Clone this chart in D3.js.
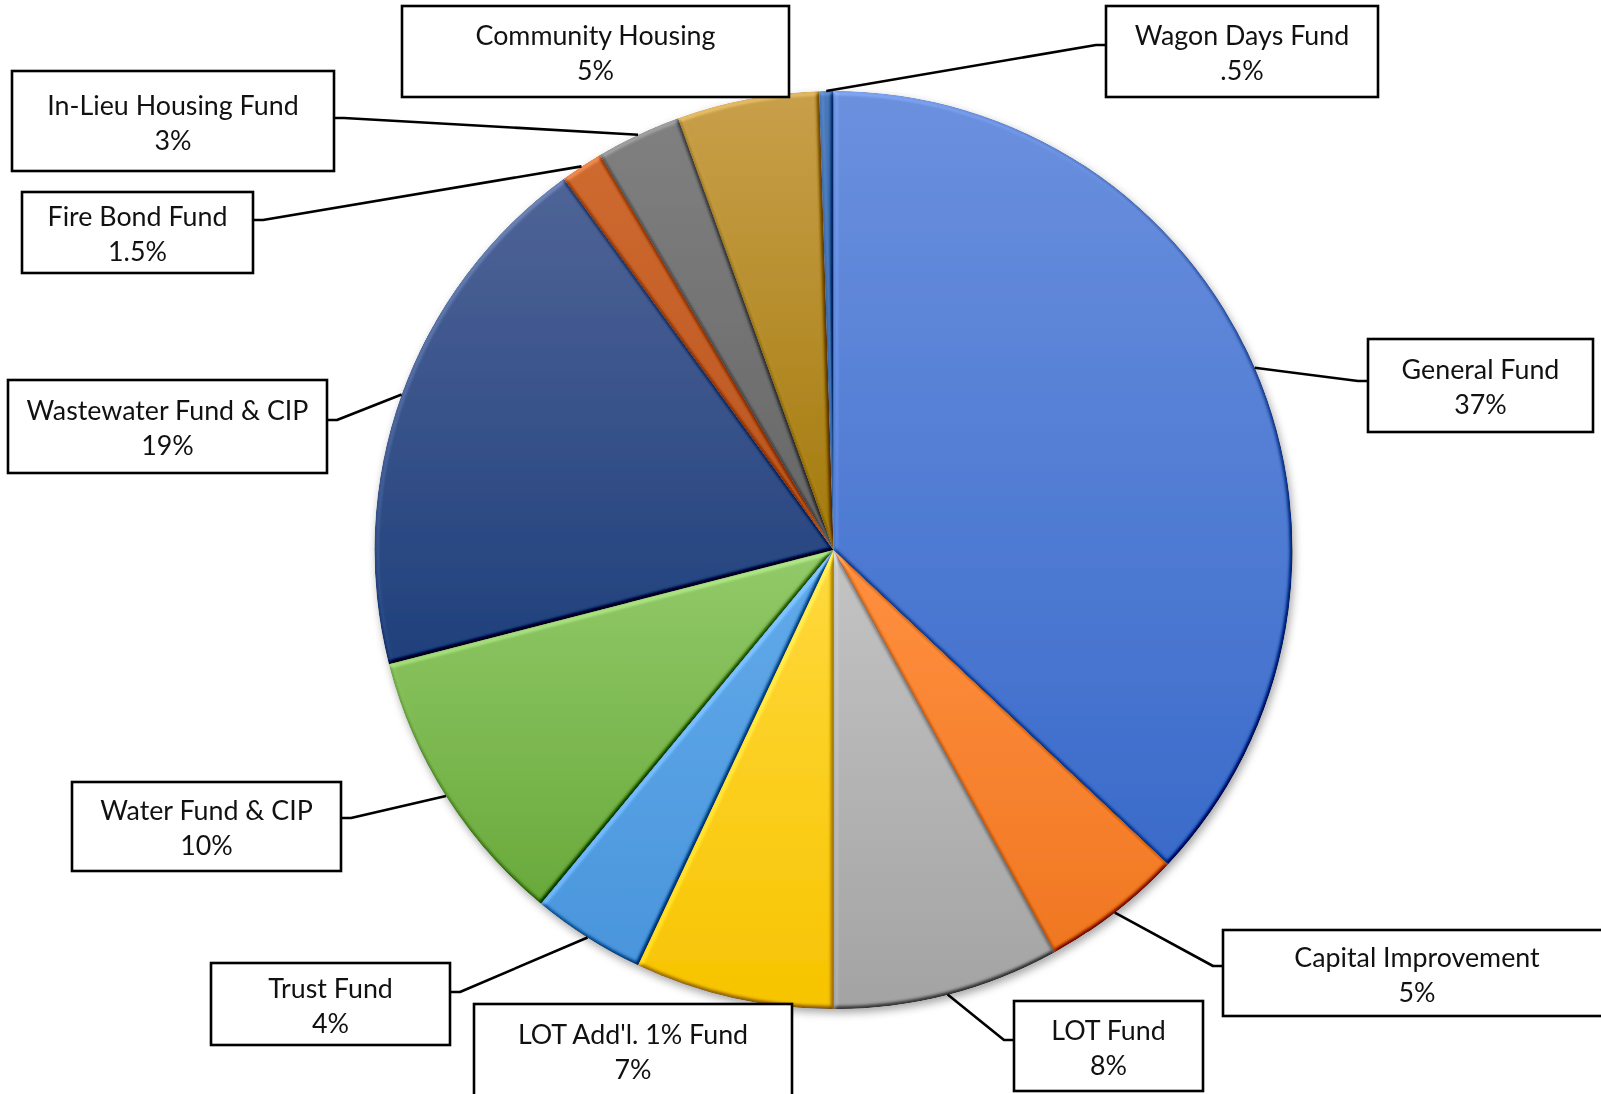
<!DOCTYPE html>
<html>
<head>
<meta charset="utf-8">
<script src="https://cdn.jsdelivr.net/npm/d3@7"></script>
<style>
  html, body { margin: 0; padding: 0; background: #fff; }
  svg { display: block; }
  .lbl { font-family: Lato, "Open Sans", sans-serif; font-size: 26.8px; fill: #111; }
</style>
</head>
<body>
<svg id="chart" width="1601" height="1094"></svg>
<script>
// Fund shares, clockwise from 12 o'clock
const categories = [
  "General Fund", "Capital Improvement", "LOT Fund", "LOT Add'l. 1% Fund",
  "Trust Fund", "Water Fund & CIP", "Wastewater Fund & CIP", "Fire Bond Fund",
  "In-Lieu Housing Fund", "Community Housing", "Wagon Days Fund"
];
const shares = [37, 5, 8, 7, 4, 10, 19, 1.5, 3, 5, 0.5];
const shareLabels = ["37%", "5%", "8%", "7%", "4%", "10%", "19%", "1.5%", "3%", "5%", ".5%"];

// Slice fills: lighter tone at the top of each slice, base tone at its bottom
const colorTop = ["#6b90de", "#ff9040", "#c4c4c4", "#ffd93e", "#62aaea", "#92ca69",
                  "#4f6497", "#cf6a30", "#808080", "#c9a04a", "#4a78b8"];
const colorBottom = ["#3a6bca", "#f07722", "#a3a3a3", "#f7c400", "#4a95dc", "#69a93b",
                     "#1f407c", "#b85520", "#666666", "#a27a0c", "#2f5f9f"];

// Label boxes [x0, y0, x1, y1] and where their leader leaves the box
const labelBoxes = [
  [1368, 339, 1593, 432], [1223, 930, 1611, 1016], [1014, 1001, 1203, 1091],
  [474, 1004, 792, 1097], [211, 963, 450, 1045], [72, 782, 341, 871],
  [8, 380, 327, 473], [22, 192, 253, 273], [12, 71, 334, 171],
  [402, 6, 789, 97], [1106, 6, 1378, 97]
];
// side: "L" leader leaves the left edge, "R" the right edge, null no leader
const leaderSide = ["L", "L", "L", null, "R", "R", "R", "R", "R", null, "L"];
const leaderY = [381, 966, 1040, null, 992, 818, 420, 220, 118, null, 45];

const W = 1601, H = 1094;
const cx = 833.5, cy = 550, R = 459;

const svg = d3.select("#chart");
const defs = svg.append("defs");

// per-slice vertical gradients over each slice's own box
categories.forEach((c, i) => {
  const g = defs.append("linearGradient")
    .attr("id", "grad" + i)
    .attr("x1", 0).attr("x2", 0)
    .attr("y1", 0).attr("y2", 1);
  g.append("stop").attr("offset", "0%").attr("stop-color", colorTop[i]);
  g.append("stop").attr("offset", "100%").attr("stop-color", colorBottom[i]);
});

// soft bevel on each slice's edges
const elev = 55;
const bevel = defs.append("filter").attr("id", "bevel")
  .attr("filterUnits", "userSpaceOnUse")
  .attr("x", -R - 20).attr("y", -R - 20).attr("width", 2 * R + 40).attr("height", 2 * R + 40)
  .attr("color-interpolation-filters", "sRGB");
bevel.append("feGaussianBlur").attr("in", "SourceAlpha").attr("stdDeviation", 2.2).attr("result", "blur");
const diff = bevel.append("feDiffuseLighting").attr("in", "blur")
  .attr("surfaceScale", 3).attr("diffuseConstant", 1)
  .attr("lighting-color", "#fff").attr("result", "light");
diff.append("feDistantLight").attr("azimuth", 235).attr("elevation", elev);
bevel.append("feComposite").attr("in", "SourceGraphic").attr("in2", "light")
  .attr("operator", "arithmetic")
  .attr("k1", 0).attr("k2", 1).attr("k3", 0.7).attr("k4", -0.7 * Math.sin(elev * Math.PI / 180))
  .attr("result", "lit");
bevel.append("feComposite").attr("in", "lit").attr("in2", "SourceAlpha").attr("operator", "in");

// drop shadow under the whole pie
const shadow = defs.append("filter").attr("id", "shadow")
  .attr("x", "-10%").attr("y", "-10%").attr("width", "120%").attr("height", "120%");
shadow.append("feDropShadow").attr("dx", 2).attr("dy", 4)
  .attr("stdDeviation", 4).attr("flood-color", "#000").attr("flood-opacity", 0.35);

const pie = d3.pie().sort(null).value(d => d)(shares);
const arc = d3.arc().innerRadius(0).outerRadius(R);

const pieG = svg.append("g")
  .attr("filter", "url(#shadow)")
  .append("g")
  .attr("transform", `translate(${cx},${cy})`);

pieG.selectAll("path.slice")
  .data(pie)
  .join("path")
  .attr("class", "slice")
  .attr("d", arc)
  .attr("fill", (d, i) => `url(#grad${i})`)
  .attr("filter", "url(#bevel)");

// leader lines: from the slice's outer edge at its mid angle to the label box
const leaders = svg.append("g")
  .attr("fill", "none").attr("stroke", "#000").attr("stroke-width", 2.6)
  .attr("stroke-linejoin", "round");

pie.forEach((d, i) => {
  if (!leaderSide[i]) return;
  const a = (d.startAngle + d.endAngle) / 2;
  const px = cx + R * Math.sin(a), py = cy - R * Math.cos(a);
  const b = labelBoxes[i];
  const bx = leaderSide[i] === "L" ? b[0] : b[2];
  const stub = leaderSide[i] === "L" ? bx - 10 : bx + 10;
  const y = leaderY[i];
  leaders.append("path").attr("d", d3.line()([[bx, y], [stub, y], [px, py]]));
});

// label boxes with name and share
const boxes = svg.append("g").selectAll("g.box")
  .data(categories)
  .join("g")
  .attr("class", "box");

boxes.append("rect")
  .attr("x", (d, i) => labelBoxes[i][0])
  .attr("y", (d, i) => labelBoxes[i][1])
  .attr("width", (d, i) => labelBoxes[i][2] - labelBoxes[i][0])
  .attr("height", (d, i) => labelBoxes[i][3] - labelBoxes[i][1])
  .attr("fill", "#fff").attr("stroke", "#000").attr("stroke-width", 2.6);

const capHalf = 9.5;
boxes.append("text")
  .attr("class", "lbl")
  .attr("text-anchor", "middle")
  .attr("x", (d, i) => (labelBoxes[i][0] + labelBoxes[i][2]) / 2)
  .attr("y", (d, i) => (labelBoxes[i][1] + labelBoxes[i][3]) / 2 - 16 + capHalf)
  .text(d => d);

boxes.append("text")
  .attr("class", "lbl")
  .attr("text-anchor", "middle")
  .attr("x", (d, i) => (labelBoxes[i][0] + labelBoxes[i][2]) / 2)
  .attr("y", (d, i) => (labelBoxes[i][1] + labelBoxes[i][3]) / 2 + 19 + capHalf)
  .text((d, i) => shareLabels[i]);
</script>
</body>
</html>
